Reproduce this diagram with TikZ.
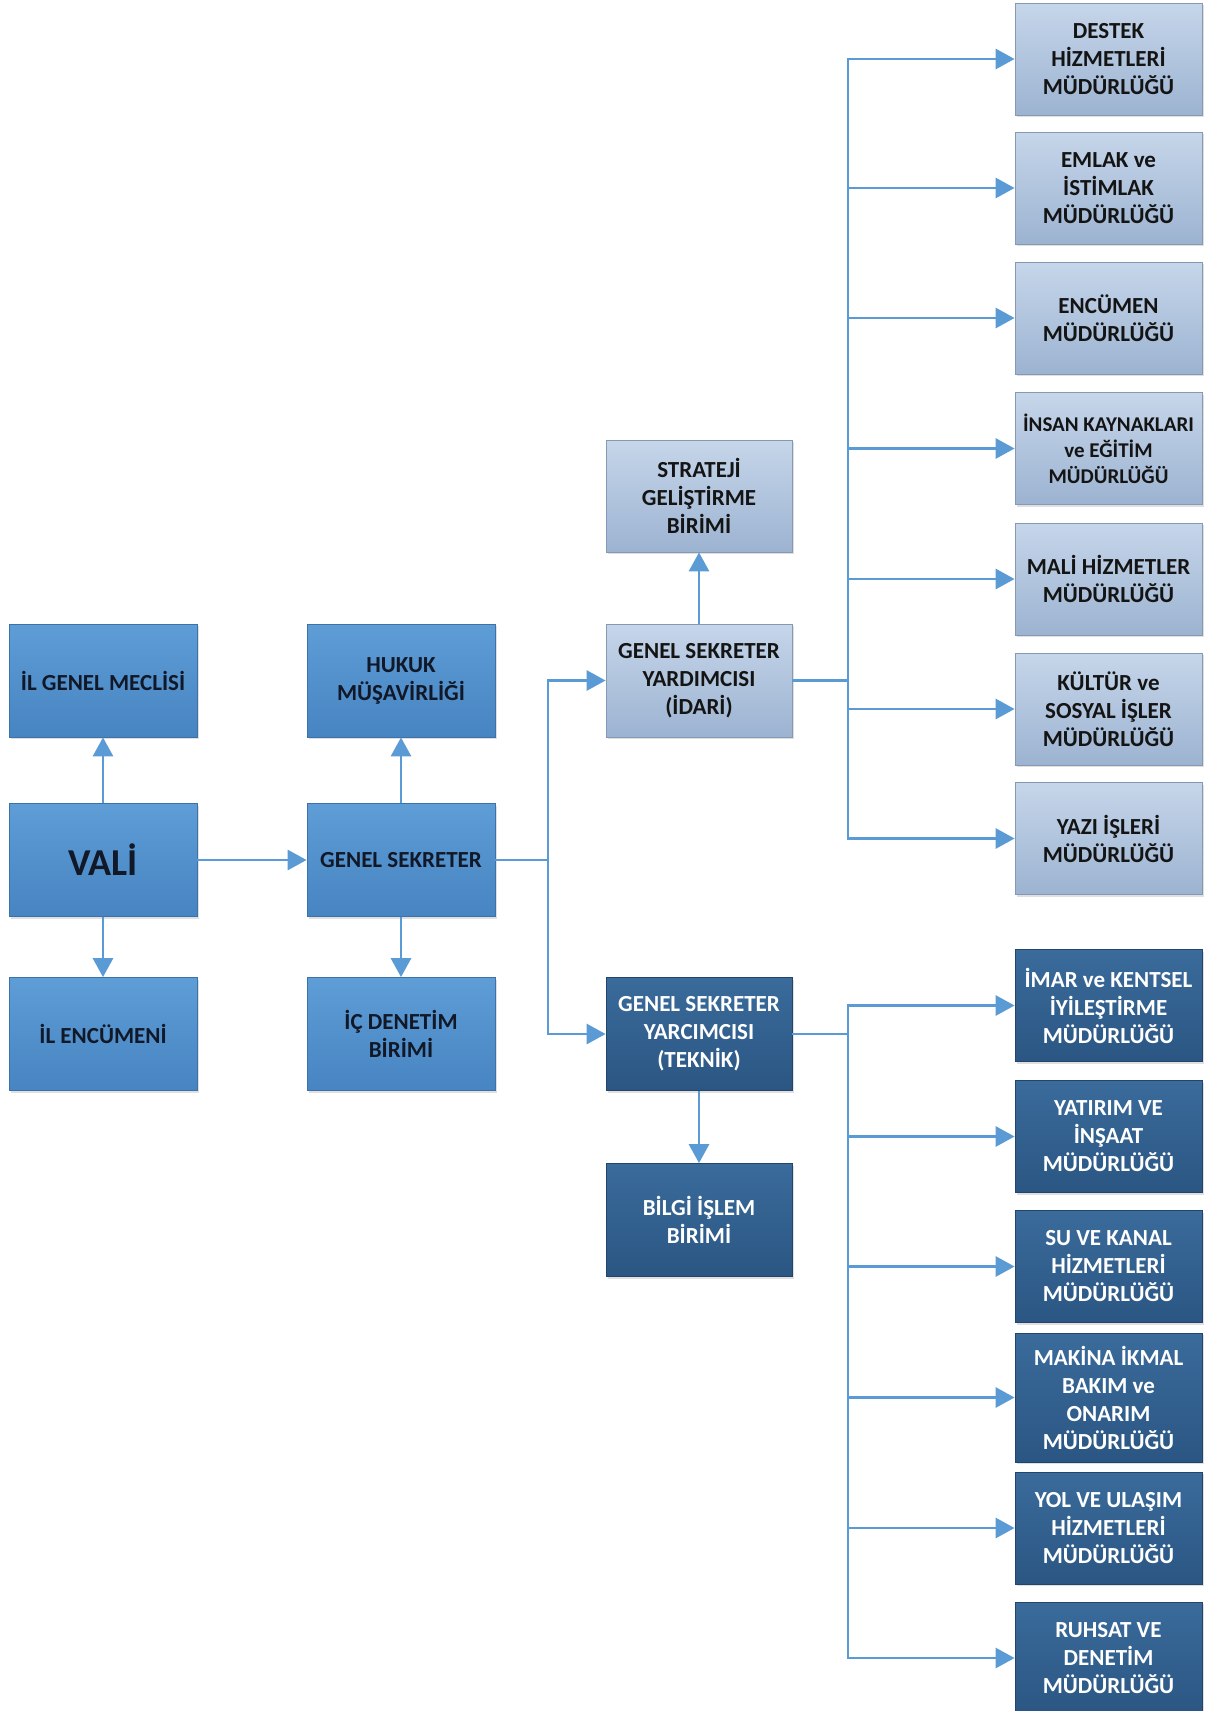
\documentclass[tikz,border=0pt]{standalone}
\usepackage{fontspec}
\setmainfont{Carlito}
\usetikzlibrary{arrows.meta,shadows}
\definecolor{conn}{HTML}{5B9BD5}
\definecolor{midT}{HTML}{5E9DD6}
\definecolor{midB}{HTML}{4784C2}
\definecolor{midD}{HTML}{3D72A8}
\definecolor{midTxt}{HTML}{111827}
\definecolor{lightT}{HTML}{C6D6EA}
\definecolor{lightB}{HTML}{9CB3D1}
\definecolor{lightD}{HTML}{8699B2}
\definecolor{darkT}{HTML}{3A6B9B}
\definecolor{darkB}{HTML}{2B5683}
\definecolor{darkD}{HTML}{22456B}
\tikzset{
  basebox/.style={rectangle, inner sep=2pt, align=center,
    font=\fontsize{23}{28}\selectfont\bfseries,
    drop shadow={opacity=0.25, shadow xshift=2pt, shadow yshift=-2pt}},
  midbox/.style={basebox, top color=midT, bottom color=midB, draw=midD, line width=0.8pt,
    text=midTxt, minimum width=188pt, minimum height=113pt},
  lightbox/.style={basebox, top color=lightT, bottom color=lightB, draw=lightD, line width=0.8pt,
    text=black!92, minimum width=187pt, minimum height=112pt},
  darkbox/.style={basebox, top color=darkT, bottom color=darkB, draw=darkD, line width=0.8pt,
    text=white, minimum width=187pt, minimum height=112pt},
  conline/.style={draw=conn, line width=2.9pt},
  conarrow/.style={conline, -{Triangle[length=19pt,width=20pt]}}
}
\begin{document}
\begin{tikzpicture}[x=1pt,y=-1pt]
\useasboundingbox[fill=white] (0,0) rectangle (1220,1711);

% left column
\node[midbox] (meclis) at (103,680.5) {İL GENEL MECLİSİ};
\node[midbox, font=\fontsize{38}{42}\selectfont\bfseries] (vali) at (103,860) {VALİ};
\node[midbox] (encumeni) at (103,1034) {İL ENCÜMENİ};

% middle column
\node[midbox] (hukuk) at (401,680.5) {HUKUK\\MÜŞAVİRLİĞİ};
\node[midbox] (gs) at (401,860) {GENEL SEKRETER};
\node[midbox] (icdenetim) at (401,1034) {İÇ DENETİM\\BİRİMİ};

% third column
\node[lightbox, minimum width=186pt] (strateji) at (699,496) {STRATEJİ\\GELİŞTİRME\\BİRİMİ};
\node[lightbox, minimum width=186pt, minimum height=113pt] (gsyi) at (699,680.5) {GENEL SEKRETER\\YARDIMCISI\\(İDARİ)};
\node[darkbox, minimum width=186pt, minimum height=113pt] (gsyt) at (699,1034) {GENEL SEKRETER\\YARCIMCISI\\(TEKNİK)};
\node[darkbox, minimum width=186pt, minimum height=113pt] (bilgi) at (699,1220) {BİLGİ İŞLEM\\BİRİMİ};

% right column (idari)
\node[lightbox] (destek) at (1108.5,59) {DESTEK\\HİZMETLERİ\\MÜDÜRLÜĞÜ};
\node[lightbox] (emlak) at (1108.5,188) {EMLAK ve\\İSTİMLAK\\MÜDÜRLÜĞÜ};
\node[lightbox] (encumen) at (1108.5,318) {ENCÜMEN\\MÜDÜRLÜĞÜ};
\node[lightbox, font=\fontsize{21}{26}\selectfont\bfseries] (insan) at (1108.5,448.5) {İNSAN KAYNAKLARI\\ve EĞİTİM\\MÜDÜRLÜĞÜ};
\node[lightbox] (mali) at (1108.5,579) {MALİ HİZMETLER\\MÜDÜRLÜĞÜ};
\node[lightbox] (kultur) at (1108.5,709) {KÜLTÜR ve\\SOSYAL İŞLER\\MÜDÜRLÜĞÜ};
\node[lightbox] (yazi) at (1108.5,838.5) {YAZI İŞLERİ\\MÜDÜRLÜĞÜ};

% right column (teknik)
\node[darkbox] (imar) at (1108.5,1005.5) {İMAR ve KENTSEL\\İYİLEŞTİRME\\MÜDÜRLÜĞÜ};
\node[darkbox] (yatirim) at (1108.5,1136.5) {YATIRIM VE\\İNŞAAT\\MÜDÜRLÜĞÜ};
\node[darkbox] (su) at (1108.5,1266.5) {SU VE KANAL\\HİZMETLERİ\\MÜDÜRLÜĞÜ};
\node[darkbox, minimum height=129pt] (makina) at (1108.5,1397.5) {MAKİNA İKMAL\\BAKIM ve\\ONARIM\\MÜDÜRLÜĞÜ};
\node[darkbox] (yol) at (1108.5,1528) {YOL VE ULAŞIM\\HİZMETLERİ\\MÜDÜRLÜĞÜ};
\node[darkbox] (ruhsat) at (1108.5,1658) {RUHSAT VE\\DENETİM\\MÜDÜRLÜĞÜ};

% connectors left/middle
\draw[conarrow] (vali) -- (meclis);
\draw[conarrow] (vali) -- (encumeni);
\draw[conarrow] (vali) -- (gs);
\draw[conarrow] (gs) -- (hukuk);
\draw[conarrow] (gs) -- (icdenetim);
\draw[conarrow] (gsyi) -- (strateji);
\draw[conarrow] (gsyt) -- (bilgi);

% GS to deputies
\coordinate (mt) at (548,860);
\draw[conline] (gs.east) -- (mt);
\draw[conarrow] (mt) |- (gsyi.west);
\draw[conarrow] (mt) |- (gsyt.west);

% idari trunk
\coordinate (ti) at (848,680.5);
\draw[conline] (gsyi.east) -- (ti);
\foreach \n in {destek,emlak,encumen,insan,mali,kultur,yazi}
  \draw[conarrow] (ti) |- (\n.west);

% teknik trunk
\coordinate (tt) at (848,1034);
\draw[conline] (gsyt.east) -- (tt);
\foreach \n in {imar,yatirim,su,makina,yol,ruhsat}
  \draw[conarrow] (tt) |- (\n.west);
\end{tikzpicture}
\end{document}
